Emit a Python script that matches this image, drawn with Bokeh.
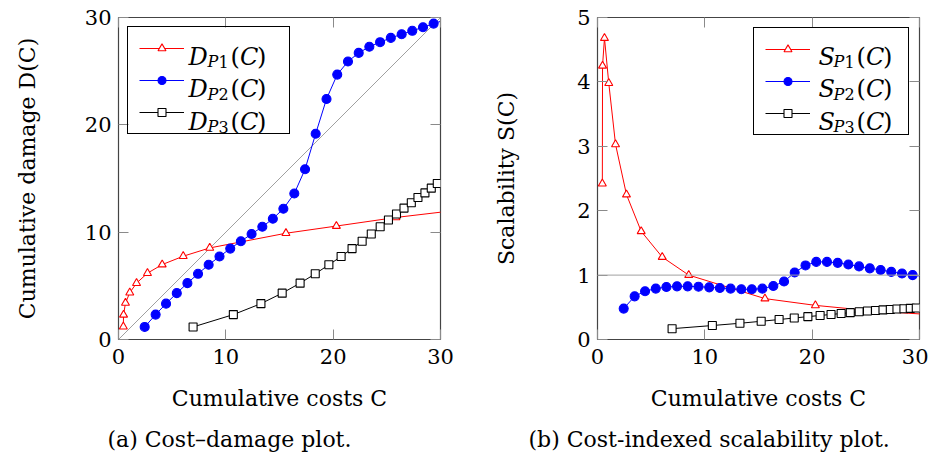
from bokeh.plotting import figure
from bokeh.models import (Range1d, LinearAxis, FixedTicker, Legend, LegendItem, Label, Span,
                          Title, CustomJSTickFormatter)
from bokeh.layouts import row
from bokeh.embed import file_html
from bokeh.resources import INLINE

FONT = "DejaVu Serif"

# ---------------- data ----------------
x_ticks = [0, 10, 20, 30]
d_ticks = [0, 10, 20, 30]
s_ticks = [0, 1, 2, 3, 4, 5]
diag = [0, 30]

c_p1 = [0.45, 0.47, 0.65, 1.05, 1.68, 2.7, 4.07, 6.03, 8.5, 15.6, 20.3, 25.85, 31.6]
d_p1 = [1.2, 2.3, 3.4, 4.36, 5.25, 6.18, 6.98, 7.76, 8.53, 9.9, 10.57, 11.37, 12.05]
s_p1 = [2.42, 4.25, 4.68, 3.98, 3.03, 2.25, 1.68, 1.28, 1.0, 0.635, 0.53, 0.44, 0.381]

c_p2 = [2.44, 3.46, 4.43, 5.43, 6.42, 7.41, 8.4, 9.41, 10.41, 11.4, 12.4, 13.4, 14.38, 15.36,
        16.38, 17.38, 18.37, 19.38, 20.38, 21.38, 22.38, 23.37, 24.37, 25.37, 26.38, 27.37,
        28.37, 29.36, 30.5]
d_p2 = [1.17, 2.32, 3.34, 4.32, 5.25, 6.12, 6.96, 7.73, 8.47, 9.15, 9.83, 10.5, 11.25, 12.18,
        13.6, 15.86, 19.17, 22.41, 24.68, 25.9, 26.7, 27.27, 27.7, 28.1, 28.44, 28.76,
        29.09, 29.43, 29.8]
s_p2 = [0.48, 0.67, 0.75, 0.79, 0.815, 0.825, 0.825, 0.82, 0.81, 0.80, 0.79, 0.78, 0.78, 0.79,
        0.83, 0.90, 1.04, 1.15, 1.205, 1.205, 1.19, 1.165, 1.135, 1.105, 1.08, 1.05,
        1.025, 1.0, 0.977]

c_p3 = [6.95, 10.7, 13.27, 15.25, 16.92, 18.33, 19.6, 20.74, 21.76, 22.7, 23.55, 24.38, 25.15,
        25.9, 26.6, 27.28, 27.9, 28.55, 29.14, 29.7]
d_p3 = [1.17, 2.32, 3.34, 4.32, 5.25, 6.12, 6.96, 7.73, 8.47, 9.15, 9.83, 10.5, 11.13,
        11.69, 12.24, 12.74, 13.23, 13.66, 14.1, 14.53]
s_p3 = [0.168, 0.217, 0.252, 0.283, 0.31, 0.334, 0.355, 0.373, 0.389, 0.403, 0.417, 0.431,
        0.443, 0.451, 0.46, 0.467, 0.474, 0.478, 0.484, 0.489]

RED, BLUE, BLACK, GRAY = "#ff0000", "#0000ff", "#000000", "#a0a0a0"
FW = FH = 322


def style_axis(ax, ticks, show_labels=True):
    ax.ticker = FixedTicker(ticks=ticks)
    ax.axis_line_color = None
    ax.major_tick_in = 10
    ax.major_tick_out = 0
    ax.major_tick_line_color = "#8a8a8a"
    ax.minor_tick_line_color = None
    ax.major_label_text_font = FONT
    ax.major_label_text_color = "black"
    ax.major_label_text_font_size = "21px"
    ax.major_label_standoff = 7
    if not show_labels:
        ax.formatter = CustomJSTickFormatter(code="return '';")
        ax.major_label_standoff = 0
    ax.axis_label_text_font = FONT
    ax.axis_label_text_font_size = "22px"
    ax.axis_label_text_font_style = "normal"
    ax.axis_label_text_color = "black"


def make_fig(yr, yticks, ylabel, min_left, min_right):
    p = figure(frame_width=FW, frame_height=FH, x_range=Range1d(0, 30), y_range=Range1d(*yr),
               output_backend="svg", toolbar_location=None,
               min_border_left=min_left, min_border_right=min_right,
               min_border_top=17, min_border_bottom=114)
    p.xgrid.visible = False
    p.ygrid.visible = False
    p.outline_line_color = "#444444"
    p.outline_line_width = 1.2
    p.outline_line_alpha = 1
    p.background_fill_color = "white"
    p.border_fill_color = "white"
    style_axis(p.xaxis[0], x_ticks)
    style_axis(p.yaxis[0], yticks)
    p.xaxis[0].major_label_standoff = 9
    p.xaxis[0].axis_label = "Cumulative costs C"
    p.xaxis[0].axis_label_standoff = 19
    p.yaxis[0].axis_label = ylabel
    top = LinearAxis()
    style_axis(top, x_ticks, False)
    right = LinearAxis()
    style_axis(right, yticks, False)
    p.add_layout(top, "above")
    p.add_layout(right, "right")
    return p


def series(p, xs, ys, color, marker, size, fill):
    ln = p.line(xs, ys, line_color=color, line_width=1)
    sc = p.scatter(xs, ys, marker=marker, size=size, line_color=color, line_width=1.1,
                   fill_color=fill)
    return [ln, sc]


def legend(p, rends, loc, margin, label_width):
    items = [LegendItem(label=" ", renderers=r) for r in rends]
    lg = Legend(items=items, location=loc, margin=margin, padding=11, spacing=12,
                glyph_width=45, glyph_height=20, label_height=20, label_width=label_width,
                label_standoff=6, border_line_color="black", border_line_width=1,
                border_line_alpha=1, background_fill_color=None, background_fill_alpha=0,
                label_text_font_size="12px")
    p.add_layout(lg)


def math_label(p, yr, base, px, py, sub_dx):
    # px, py: pixel offsets of the baseline start from the frame's top-left corner
    sx = 30.0 / FW
    sy = (yr[1] - yr[0]) / FH
    segs = [
        (base[0], "italic", "24px", 0, 0),
        ("P", "italic", "16px", sub_dx, 5),
        (base[1], "normal", "16px", sub_dx + 11, 5),
        ("(", "normal", "24px", sub_dx + 23, 0),
        ("C", "italic", "24px", sub_dx + 32.5, 0),
        (")", "normal", "24px", sub_dx + 49.5, 0),
    ]
    for t, st, sz, dx, dy in segs:
        p.add_layout(Label(x=(px + dx) * sx, y=yr[1] - (py + dy) * sy, text=t,
                           text_font=FONT, text_font_style=st, text_font_size=sz,
                           text_baseline="alphabetic", text_align="left", text_color="black"))


def caption(p, text, offset):
    p.add_layout(Title(text=text, align="left", offset=offset, vertical_align="bottom",
                       text_font=FONT, text_font_size="22px", text_font_style="normal",
                       text_color="black", standoff=22), "below")


# ---------------- (a) cost-damage ----------------
D_RANGE = (0, 30)
p1 = make_fig(D_RANGE, d_ticks, "Cumulative damage D(C)", 118, 38)
p1.yaxis[0].axis_label_standoff = 42
p1.line(diag, diag, line_color=GRAY, line_width=1)
r1 = series(p1, c_p1, d_p1, RED, "triangle", 8, "white")
r2 = series(p1, c_p2, d_p2, BLUE, "circle", 9, BLUE)
r3 = series(p1, c_p3, d_p3, BLACK, "square", 8, "white")
legend(p1, [r1, r2, r3], "top_left", 9, 88)
for i, idx in enumerate(["1", "2", "3"]):
    math_label(p1, D_RANGE, "D" + idx, 70, 39 + 32.5 * i, 19)
caption(p1, "(a) Cost\u2013damage plot.", -11)

# ---------------- (b) scalability ----------------
S_RANGE = (0, 5)
p2 = make_fig(S_RANGE, s_ticks, "Scalability S(C)", 119, 9)
p2.yaxis[0].axis_label_standoff = 55
p2.add_layout(Span(location=1, dimension="width", line_color=GRAY, line_width=1))
q1 = series(p2, c_p1, s_p1, RED, "triangle", 8, "white")
q2 = series(p2, c_p2, s_p2, BLUE, "circle", 9, BLUE)
q3 = series(p2, c_p3, s_p3, BLACK, "square", 8, "white")
legend(p2, [q1, q2, q3], "top_right", 10, 81)
for i, idx in enumerate(["1", "2", "3"]):
    math_label(p2, S_RANGE, "S" + idx, FW - 101, 39 + 32.5 * i, 15)
caption(p2, "(b) Cost-indexed scalability plot.", -69)

layout = row(p1, p2)
open("out.html", "w").write(file_html(layout, INLINE))
